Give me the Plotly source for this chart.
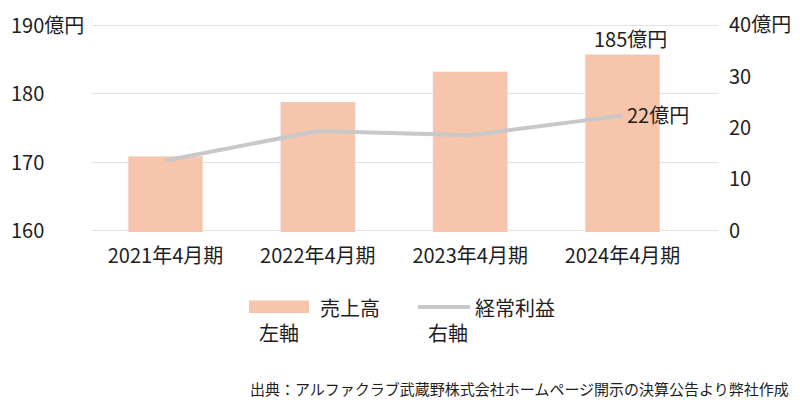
import plotly.graph_objects as go

categories = ["2021年4月期", "2022年4月期", "2023年4月期", "2024年4月期"]
sales = [170.9, 178.8, 183.2, 185.7]          # 売上高 (億円, 左軸)
ordinary_profit = [13.7, 19.4, 18.6, 22.4]     # 経常利益 (億円, 右軸)

left_ticks = [160, 170, 180, 190]
left_ticktext = ["160", "170", "180", "190億円"]
right_ticks = [0, 10, 20, 30, 40]
right_ticktext = ["0", "10", "20", "30", "40億円"]

sales_label = "185億円"
profit_label = "22億円"
source_text = "出典：アルファクラブ武蔵野株式会社ホームページ開示の決算公告より弊社作成"

FONT = "Noto Sans CJK JP"
TXT = "#1e1e1e"
BAR = "#f7c4ac"
LINE = "#c8c8c8"
FS = 20

W, H = 800, 409
ML, MR, MT, MB = 92, 82, 24, 177
PW = W - ML - MR
PH = H - MT - MB

def px(x):
    return (x - ML) / PW

def py(y):
    return (H - MB - y) / PH

fig = go.Figure()
fig.add_trace(go.Bar(x=list(range(len(categories))), y=sales, marker_color=BAR,
                     width=0.49, name="売上高", showlegend=False))
fig.add_trace(go.Scatter(x=list(range(len(categories))), y=ordinary_profit, yaxis="y2",
                         mode="lines", line=dict(color=LINE, width=4),
                         name="経常利益", showlegend=False))

annotations = []
# left axis labels (left-aligned)
for v, t in zip(left_ticks, left_ticktext):
    annotations.append(dict(x=px(9), xref="paper", y=v, yref="y", text=t,
                            xanchor="left", yanchor="middle", showarrow=False,
                            yshift=1, font=dict(family=FONT, size=FS, color=TXT)))
# data labels
annotations.append(dict(x=3, y=sales[3], xref="x", yref="y", text=sales_label,
                        xanchor="center", yanchor="bottom", showarrow=False,
                        xshift=8, yshift=0, font=dict(family=FONT, size=FS, color=TXT)))
annotations.append(dict(x=3, y=ordinary_profit[3], xref="x", yref="y2", text=profit_label,
                        xanchor="left", yanchor="middle", showarrow=False,
                        xshift=3, yshift=1, font=dict(family=FONT, size=FS, color=TXT)))
# legend texts
annotations += [
    dict(x=px(318), y=py(307), xref="paper", yref="paper", text="売上高", xanchor="left",
         yanchor="middle", showarrow=False, font=dict(family=FONT, size=FS, color=TXT)),
    dict(x=px(257), y=py(332), xref="paper", yref="paper", text="左軸", xanchor="left",
         yanchor="middle", showarrow=False, font=dict(family=FONT, size=FS, color=TXT)),
    dict(x=px(473), y=py(307), xref="paper", yref="paper", text="経常利益", xanchor="left",
         yanchor="middle", showarrow=False, font=dict(family=FONT, size=FS, color=TXT)),
    dict(x=px(426), y=py(332), xref="paper", yref="paper", text="右軸", xanchor="left",
         yanchor="middle", showarrow=False, font=dict(family=FONT, size=FS, color=TXT)),
    dict(x=px(791), y=py(388), xref="paper", yref="paper", text=source_text, xanchor="right",
         yanchor="middle", showarrow=False, font=dict(family=FONT, size=15, color=TXT)),
]

shapes = [
    dict(type="rect", xref="paper", yref="paper", x0=px(249), x1=px(309), y0=py(313), y1=py(300.5),
         fillcolor=BAR, line=dict(width=0)),
    dict(type="line", xref="paper", yref="paper", x0=px(418), x1=px(470), y0=py(307), y1=py(307),
         line=dict(color=LINE, width=4)),
]

fig.update_layout(
    width=W, height=H,
    margin=dict(l=ML, r=MR, t=MT, b=MB, autoexpand=False),
    paper_bgcolor="white", plot_bgcolor="white",
    showlegend=False,
    font=dict(family=FONT, size=FS, color=TXT),
    xaxis=dict(range=[-0.4825, 3.627], tickvals=list(range(len(categories))), ticktext=categories,
               showgrid=False, zeroline=False, showline=False, ticks="", ticklabelstandoff=10,
               automargin=False, tickfont=dict(family=FONT, size=FS, color=TXT)),
    yaxis=dict(range=[159.85, 190.15], tickvals=left_ticks, showticklabels=False, automargin=False,
               showgrid=True, gridcolor="#e2e2e2", gridwidth=1, zeroline=False, showline=False),
    yaxis2=dict(range=[-0.2, 40.2], overlaying="y", side="right", tickvals=right_ticks,
                ticktext=right_ticktext, showgrid=False, zeroline=False, showline=False,
                ticks="", ticklabelstandoff=10, automargin=False,
                tickfont=dict(family=FONT, size=FS, color=TXT)),
    annotations=annotations,
    shapes=shapes,
)

fig.write_html("out.html", config={"displayModeBar": False},
               post_script="document.body.style.margin='0px';")
